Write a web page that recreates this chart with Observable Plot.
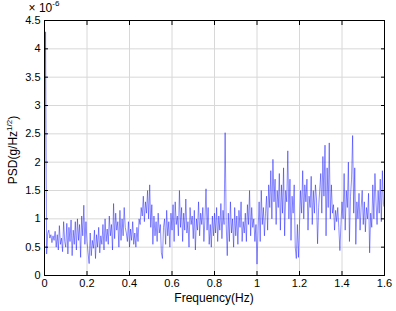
<!DOCTYPE html>
<html>
<head>
<meta charset="utf-8">
<script src="https://cdn.jsdelivr.net/npm/d3@7"></script>
<script src="https://cdn.jsdelivr.net/npm/@observablehq/plot@0.6"></script>
<style>
  html, body { margin: 0; padding: 0; background: #fff; }
  svg { display: block; }
</style>
</head>
<body>
<div id="chart"></div>
<script>
// PSD values in units of 1e-6 g/Hz^(1/2), sampled every 0.005 Hz from 0 to 1.6 Hz
const freqStep = 0.005;
const psd = [
  1.1, 4.3, 0.38, 0.74, 0.8, 0.66, 0.72, 0.58, 0.7, 0.62,
  0.78, 0.5, 0.72, 0.45, 0.88, 0.55, 0.66, 0.42, 0.95, 0.6,
  0.5, 0.92, 0.38, 0.85, 0.6, 0.98, 0.35, 0.8, 0.55, 0.95,
  0.45, 1.0, 0.62, 0.9, 0.32, 1.05, 0.7, 1.24, 0.55, 0.95,
  0.6, 0.4, 0.21, 0.75, 0.35, 0.62, 0.48, 0.8, 0.3, 0.72,
  0.5, 0.85, 0.4, 0.7, 0.55, 0.9, 0.45, 1.0, 0.6, 0.82,
  0.55, 1.05, 0.7, 0.9, 0.45, 1.27, 0.65, 1.1, 0.8, 0.95,
  0.5, 1.15, 0.62, 1.0, 0.7, 1.2, 0.85, 0.75, 0.6, 0.95,
  0.5, 0.82, 0.62, 0.95, 0.55, 0.75, 0.5, 0.85, 0.6, 1.0,
  0.9, 1.2, 1.05, 1.4, 0.95, 1.3, 1.1, 1.5, 1.0, 1.6,
  0.85, 1.25, 0.55, 1.05, 0.7, 0.95, 0.6, 1.1, 0.75, 0.9,
  0.4, 0.3, 0.85, 1.0, 0.55, 1.15, 0.7, 0.95, 0.5, 1.1,
  0.8, 1.25, 0.6, 1.3, 0.9, 1.05, 0.7, 1.5, 0.85, 1.2,
  0.6, 1.1, 0.8, 1.35, 0.75, 0.95, 0.5, 1.2, 0.9, 1.05,
  0.65, 1.15, 0.45, 1.0, 0.8, 1.3, 0.7, 1.1, 0.9, 1.2,
  0.6, 1.0, 1.53, 0.8, 1.2, 0.55, 0.9, 0.5, 1.05, 0.7,
  1.1, 0.75, 1.2, 0.6, 1.05, 0.8, 1.27, 0.65, 1.15, 0.9,
  2.52, 0.9, 0.35, 1.1, 0.6, 1.3, 0.75, 1.0, 0.5, 1.2,
  0.7, 1.05, 0.55, 1.15, 0.85, 1.3, 0.6, 0.95, 0.75, 1.1,
  0.6, 1.25, 0.9, 1.5, 0.7, 1.2, 0.85, 1.0, 0.6, 0.9,
  0.2, 0.8, 1.3, 0.6, 1.5, 0.9, 1.2, 0.7, 1.1, 1.4,
  0.8, 1.6, 1.2, 1.85, 1.0, 2.05, 1.3, 1.7, 0.9, 1.5,
  1.2, 1.8, 0.8, 1.6, 1.1, 1.9, 0.7, 1.5, 1.3, 2.2,
  1.0, 1.7, 0.62, 1.4, 1.1, 1.6, 0.5, 0.3, 0.9, 0.32,
  0.9, 1.5, 1.1, 1.85, 1.0, 1.6, 1.3, 1.7, 0.8, 1.4,
  1.2, 1.75, 0.9, 1.5, 1.1, 1.6, 1.35, 0.56, 1.2, 1.5,
  1.8, 1.1, 2.1, 1.4, 2.3, 0.7, 1.9, 1.2, 2.34, 1.0,
  1.6, 1.1, 1.25, 0.8, 1.15, 0.95, 1.2, 0.85, 0.44, 0.9,
  1.3, 1.0, 1.8, 0.8, 1.5, 1.2, 2.0, 0.6, 1.4, 1.7,
  2.47, 1.1, 1.9, 0.55, 1.3, 1.0, 1.45, 0.8, 1.2, 1.5,
  0.9, 1.3, 0.77, 1.2, 1.0, 1.45, 0.4, 1.1, 0.85, 1.6,
  1.0, 1.8, 1.3, 0.9, 1.5, 1.1, 1.7, 0.95, 1.85, 1.25,
  1.2
];
const freqs = psd.map((_, i) => +(i * freqStep).toFixed(3));
const xTicks = [0, 0.2, 0.4, 0.6, 0.8, 1, 1.2, 1.4, 1.6];
const yTicks = [0, 0.5, 1, 1.5, 2, 2.5, 3, 3.5, 4, 4.5];
const xLabel = "Frequency(Hz)";
const yLabelMain = "PSD(g/Hz";
const yLabelSup = "1/2";
const yLabelEnd = ")";
const expBase = "\u00d7 10";
const expSup = "-6";

const font = "Liberation Sans, Arial, Helvetica, sans-serif";

const chart = Plot.plot({
  width: 396,
  height: 311,
  marginLeft: 44,
  marginRight: 12,
  marginTop: 20,
  marginBottom: 36,
  style: { fontFamily: font, fontSize: "11px", color: "#000", background: "#fff" },
  x: { domain: [0, 1.6] },
  y: { domain: [0, 4.5] },
  marks: [
    Plot.gridX(xTicks, { stroke: "#d8d8d8", strokeOpacity: 1 }),
    Plot.gridY(yTicks, { stroke: "#d8d8d8", strokeOpacity: 1 }),
    Plot.lineY(psd, { x: freqs, y: psd, stroke: "#1a1aff", strokeWidth: 0.5 }),
    Plot.frame({ stroke: "#000", strokeWidth: 1 }),
    Plot.axisX(xTicks, { anchor: "bottom", tickSize: -4, tickPadding: 8, tickFormat: d => String(d), label: null, fontSize: 11 }),
    Plot.axisX(xTicks, { anchor: "top", tickSize: -4, tickFormat: () => "", label: null }),
    Plot.axisY(yTicks, { anchor: "left", tickSize: -4, tickPadding: 8, tickFormat: d => String(d), label: null, fontSize: 11 }),
    Plot.axisY(yTicks, { anchor: "right", tickSize: -4, tickFormat: () => "", label: null })
  ]
});

document.getElementById("chart").appendChild(chart);

const svg = d3.select(chart);
svg.append("text")
  .attr("x", 214).attr("y", 302)
  .attr("text-anchor", "middle")
  .style("font-family", font).style("font-size", "12px").attr("fill", "#000")
  .text(xLabel);

const yl = svg.append("text")
  .attr("transform", "translate(17,150) rotate(-90)")
  .attr("text-anchor", "middle")
  .style("font-family", font).style("font-size", "12px").attr("fill", "#000");
yl.append("tspan").text(yLabelMain);
yl.append("tspan").attr("dy", -5).style("font-size", "8px").text(yLabelSup);
yl.append("tspan").attr("dy", 5).text(yLabelEnd);

const ex = svg.append("text")
  .attr("x", 44).attr("y", 12)
  .style("font-family", font).style("font-size", "12px").attr("fill", "#000");
ex.append("tspan").text(expBase);
ex.append("tspan").attr("dy", -6).style("font-size", "8px").text(expSup);
</script>
</body>
</html>
